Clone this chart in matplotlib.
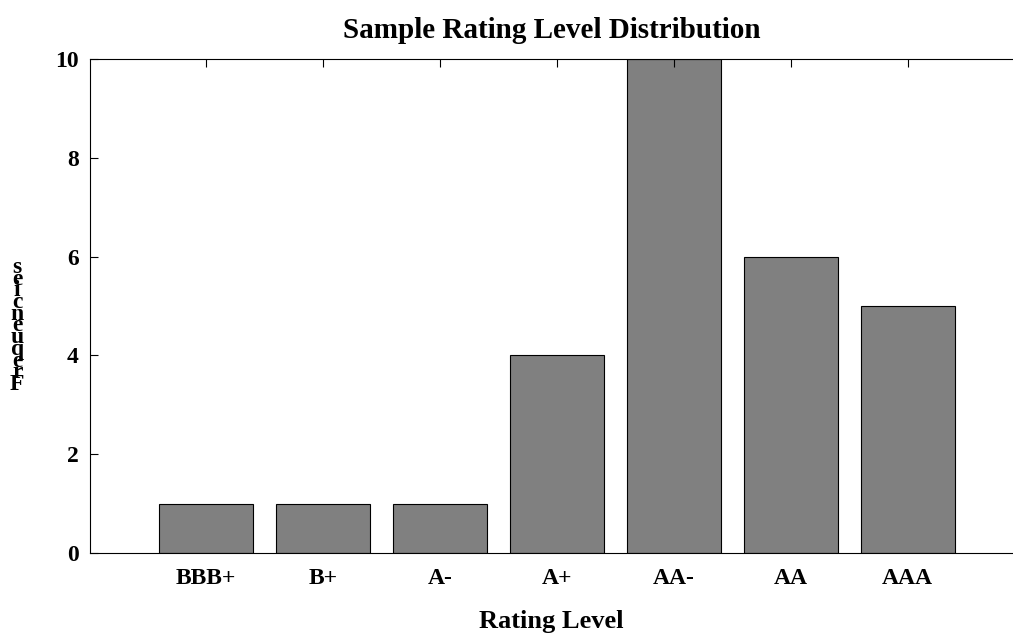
import matplotlib
matplotlib.use("Agg")
import matplotlib.pyplot as plt

# --- Dados ---
ratings = ['BBB+', 'B+', 'A-', 'A+', 'AA-', 'AA', 'AAA']
counts = [1, 1, 1, 4, 10, 6, 5]
yticks = [0, 2, 4, 6, 8, 10]
ylabel_text = 'Frequencies'

plt.rcParams['font.family'] = ['Liberation Serif', 'DejaVu Serif']
plt.rcParams['font.weight'] = 'bold'

fig = plt.figure(figsize=(10.13, 6.39), dpi=100)
ax = fig.add_axes([0.0888, 0.1346, 0.9112, 0.7731])

x = list(range(len(ratings)))
ax.bar(x, counts, width=0.8, color='#808080', edgecolor='black', linewidth=0.8)

ax.set_xlim(-0.99, 6.9)
ax.set_ylim(0, 10)
ax.set_xticks(x)
ax.set_xticklabels(ratings, fontsize=17, fontweight='bold')
ax.set_yticks(yticks)
ax.set_yticklabels([str(t) for t in yticks], fontsize=17, fontweight='bold')

ax.spines['right'].set_visible(False)
ax.tick_params(axis='x', direction='in', top=True, bottom=False, length=6, pad=11)
ax.tick_params(axis='y', direction='in', left=True, right=False, length=6, pad=8)

ax.set_title('Sample Rating Level Distribution', fontsize=21, fontweight='bold', pad=15)
ax.set_xlabel('Rating Level', fontsize=19, fontweight='bold', labelpad=15)

# rótulo do eixo y empilhado (como no original)
stacked = '\n'.join(reversed(ylabel_text))
fig.text(0.017, 0.49, stacked, fontsize=17, fontweight='bold',
         ha='center', va='center', linespacing=0.42)

fig.savefig('out.png', dpi=100)
